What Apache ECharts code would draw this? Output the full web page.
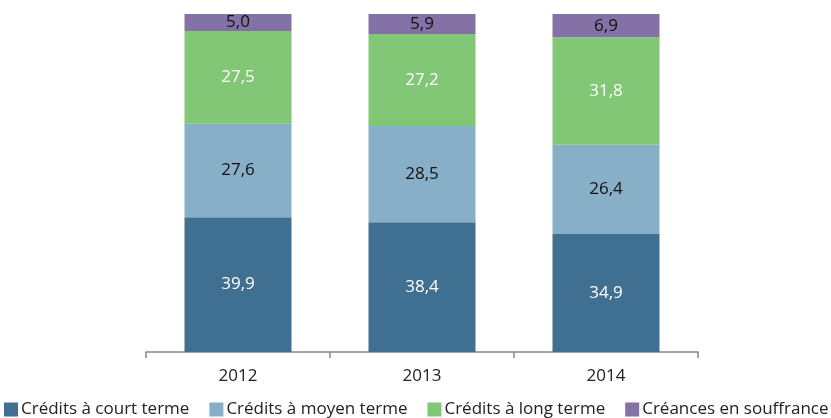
<!DOCTYPE html>
<html>
<head>
<meta charset="utf-8">
<script src="https://cdn.jsdelivr.net/npm/echarts@6/dist/echarts.min.js"></script>
<style>
  html, body { margin: 0; padding: 0; background: #fff; }
  #chart { width: 831px; height: 418px; }
</style>
</head>
<body>
<div id="chart"></div>
<script>
const years = ["2012", "2013", "2014"];
const courtTerme = [39.9, 38.4, 34.9];
const moyenTerme = [27.6, 28.5, 26.4];
const longTerme = [27.5, 27.2, 31.8];
const souffrance = [5.0, 5.9, 6.9];

const fontFamily = "'Open Sans', 'Noto Sans', sans-serif";

function fmt(p) {
  return p.value.toFixed(1).replace(".", ",");
}

function serie(name, data, color, labelColor) {
  return {
    name: name,
    type: "bar",
    stack: "total",
    barWidth: 107,
    data: data,
    itemStyle: { color: color },
    label: {
      show: true,
      position: "inside",
      formatter: fmt,
      color: labelColor,
      fontSize: 17,
      fontFamily: fontFamily
    }
  };
}

const chart = echarts.init(document.getElementById("chart"));
chart.setOption({
  animation: false,
  grid: { left: 146, right: 133, top: 14, bottom: 66 },
  legend: {
    left: 4,
    bottom: 0,
    width: 827,
    padding: 0,
    itemWidth: 14,
    itemHeight: 14,
    itemGap: 20,
    icon: "rect",
    textStyle: { fontSize: 17, color: "#222", fontFamily: fontFamily, padding: [0, 0, 0, -2] },
    data: ["Crédits à court terme", "Crédits à moyen terme", "Crédits à long terme", "Créances en souffrance"]
  },
  xAxis: {
    type: "category",
    data: years,
    axisLine: { lineStyle: { color: "#888", width: 1.5 } },
    axisTick: { show: true, length: 6, lineStyle: { color: "#888", width: 1.5 } },
    axisLabel: { fontSize: 17, color: "#222", margin: 16, fontFamily: fontFamily }
  },
  yAxis: {
    type: "value",
    min: 0,
    max: 100,
    show: false,
    splitLine: { show: false }
  },
  series: [
    serie("Crédits à court terme", courtTerme, "#3f6f91", "#fff"),
    serie("Crédits à moyen terme", moyenTerme, "#87afc8", "#111"),
    serie("Crédits à long terme", longTerme, "#82c776", "#fff"),
    serie("Créances en souffrance", souffrance, "#8471a6", "#111")
  ]
});
</script>
</body>
</html>
